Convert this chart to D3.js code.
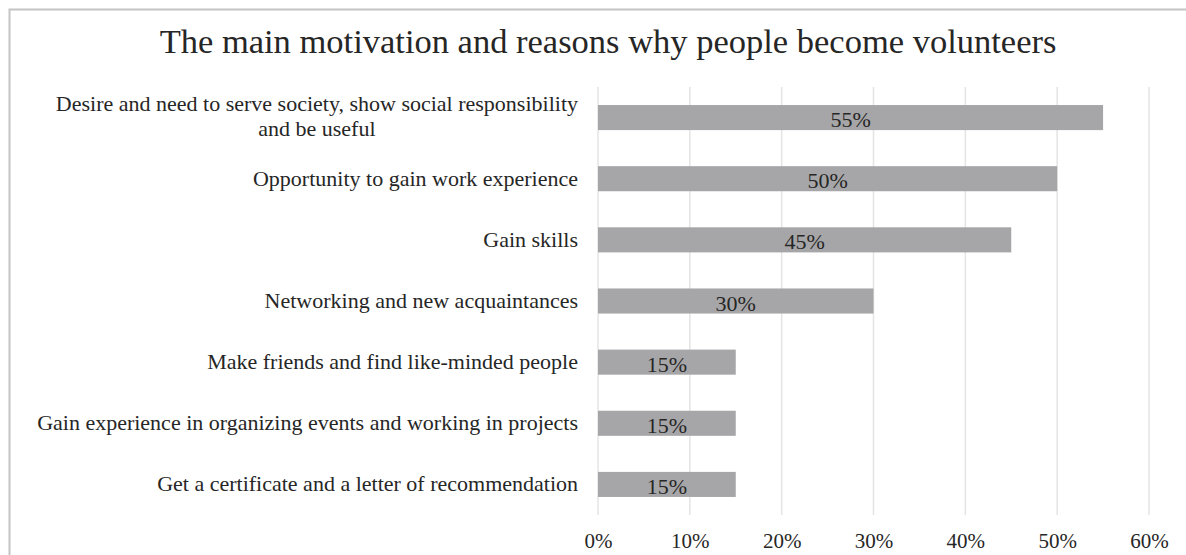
<!DOCTYPE html>
<html>
<head>
<meta charset="utf-8">
<script src="https://cdn.jsdelivr.net/npm/d3@7/dist/d3.min.js"></script>
<style>
  html, body { margin: 0; padding: 0; background: #ffffff; }
  svg { display: block; }
  text { font-family: "Liberation Serif", "Times New Roman", serif; fill: #262626; }
</style>
</head>
<body>
<svg id="chart" width="1186" height="555"></svg>
<script>
// Survey answers, top to bottom
const categories = [
  "Desire and need to serve society, show social responsibility and be useful",
  "Opportunity to gain work experience",
  "Gain skills",
  "Networking and new acquaintances",
  "Make friends and find like-minded people",
  "Gain experience in organizing events and working in projects",
  "Get a certificate and a letter of recommendation"
];
const shares = [55, 50, 45, 30, 15, 15, 15];
const tickValues = [0, 10, 20, 30, 40, 50, 60];
const title = "The main motivation and reasons why people become volunteers";

const svg = d3.select("#chart");
const W = 1186, H = 555;

// chart frame
svg.append("rect")
  .attr("x", 9.5).attr("y", 9.5)
  .attr("width", W + 20).attr("height", H + 20)
  .attr("fill", "none")
  .attr("stroke", "#c4c4c4")
  .attr("stroke-width", 2);

svg.append("text")
  .attr("x", 608).attr("y", 53)
  .attr("text-anchor", "middle")
  .style("font-size", "34.5px")
  .text(title);

const x = d3.scaleLinear().domain([0, 60]).range([598, 1149]);
const y = d3.scaleBand().domain(categories).range([87, 515])
  .paddingInner(0.59).paddingOuter(0.295);

// vertical gridlines
svg.append("g")
  .selectAll("line")
  .data(tickValues)
  .join("line")
  .attr("x1", d => x(d)).attr("x2", d => x(d))
  .attr("y1", 87).attr("y2", 515)
  .attr("stroke", "#e4e4e4")
  .attr("stroke-width", 1.5);

// bottom axis labels (no axis line)
const xAxis = d3.axisBottom(x).tickValues(tickValues)
  .tickFormat(d => d + "%").tickSize(0).tickPadding(0);
const gx = svg.append("g").attr("transform", "translate(0,533)").call(xAxis);
gx.select(".domain").remove();
gx.selectAll("text")
  .attr("dy", null).attr("y", 15)
  .style("font-family", "'Liberation Serif', 'Times New Roman', serif")
  .style("font-size", "21px")
  .attr("fill", "#262626");

// bars
svg.append("g")
  .selectAll("rect")
  .data(shares)
  .join("rect")
  .attr("x", x(0))
  .attr("y", (d, i) => y(categories[i]))
  .attr("width", d => x(d) - x(0))
  .attr("height", y.bandwidth())
  .attr("fill", "#a6a6a8");

// value labels centred on bars
svg.append("g")
  .selectAll("text")
  .data(shares)
  .join("text")
  .attr("x", d => (x(0) + x(d)) / 2)
  .attr("y", (d, i) => y(categories[i]) + y.bandwidth() / 2 + 9.5)
  .attr("text-anchor", "middle")
  .style("font-size", "22px")
  .text(d => d + "%");

// category labels, wrapped and centred as a block that is right-aligned to the plot
const labelRight = 578;
const maxWidth = 548;
const lineHeight = 25;
const labels = svg.append("g");
categories.forEach(cat => {
  const words = cat.split(" ");
  const probe = labels.append("text").style("font-size", "22px");
  const lines = [];
  let line = [];
  words.forEach(w => {
    line.push(w);
    probe.text(line.join(" "));
    if (probe.node().getComputedTextLength() > maxWidth && line.length > 1) {
      line.pop();
      lines.push(line.join(" "));
      line = [w];
    }
  });
  lines.push(line.join(" "));
  const widths = lines.map(l => { probe.text(l); return probe.node().getComputedTextLength(); });
  probe.remove();
  const blockW = d3.max(widths);
  const cx = labelRight - blockW / 2;
  const cy = y(cat) + y.bandwidth() / 2;
  const t = labels.append("text")
    .attr("text-anchor", "middle")
    .style("font-size", "22px");
  lines.forEach((l, k) => {
    t.append("tspan")
      .attr("x", cx)
      .attr("y", cy + 7 + (k - (lines.length - 1) / 2) * lineHeight - (lines.length > 1 ? 1 : 0))
      .text(l);
  });
});
</script>
</body>
</html>
